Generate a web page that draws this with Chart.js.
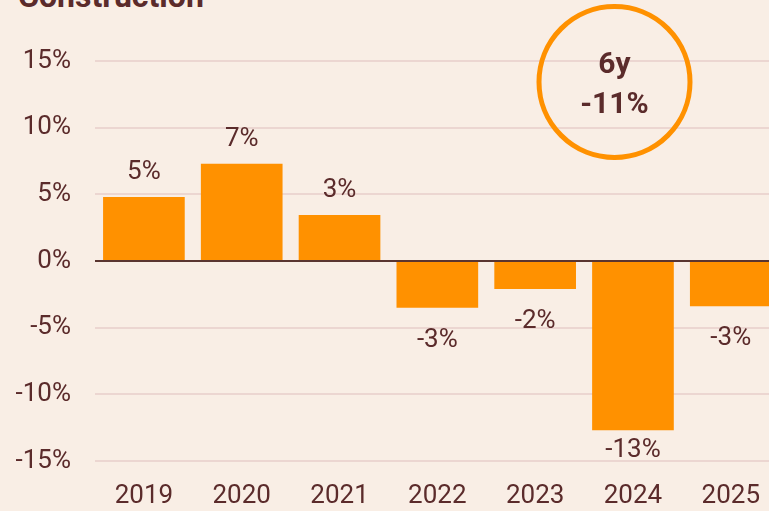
<!DOCTYPE html>
<html>
<head>
<meta charset="utf-8">
<script src="https://cdn.jsdelivr.net/npm/chart.js@4"></script>
<style>
  html, body { margin: 0; padding: 0; background: #f9eee5; }
  #wrap { position: relative; width: 769px; height: 511px; overflow: hidden; }
  #title { position: absolute; left: 18px; top: -23px; line-height: 32px; font: bold 32px Roboto, sans-serif; color: #5b2b2b; white-space: nowrap; }
  canvas { position: absolute; left: 0; top: 0; }
</style>
</head>
<body>
<div id="wrap">
  <div id="title">Construction</div>
  <canvas id="myChart" width="780" height="511"></canvas>
</div>
<script>
// chart data
var years = ["2019", "2020", "2021", "2022", "2023", "2024", "2025"];
var growth = [4.8, 7.3, 3.45, -3.5, -2.1, -12.7, -3.4];
var growthLabels = ["5%", "7%", "3%", "-3%", "-2%", "-13%", "-3%"];
var yTicks = [-15, -10, -5, 0, 5, 10, 15];
var badgeLines = ["6y", "-11%"];

var orange = "#ff9100";
var textColor = "#5b2b2b";

// labels above / below each bar (kept inside the plot area)
var valueLabels = {
  id: "valueLabels",
  afterDatasetsDraw: function (chart) {
    var ctx = chart.ctx;
    var meta = chart.getDatasetMeta(0);
    ctx.save();
    ctx.font = "26px Roboto";
    ctx.fillStyle = textColor;
    ctx.textAlign = "center";
    ctx.textBaseline = "alphabetic";
    meta.data.forEach(function (bar, i) {
      var y = growth[i] >= 0 ? bar.y - 18 : Math.min(bar.y + 39, chart.chartArea.bottom - 4);
      ctx.fillText(growthLabels[i], bar.x, y);
    });
    ctx.restore();
  }
};

// the circled summary
var badge = {
  id: "badge",
  afterDraw: function (chart) {
    var ctx = chart.ctx;
    var cx = 614.5, cy = 82;
    ctx.save();
    ctx.beginPath();
    ctx.arc(cx, cy, 75.5, 0, Math.PI * 2);
    ctx.lineWidth = 5;
    ctx.strokeStyle = orange;
    ctx.stroke();
    ctx.font = "bold 30px Roboto";
    ctx.fillStyle = textColor;
    ctx.textAlign = "center";
    ctx.textBaseline = "alphabetic";
    ctx.fillText(badgeLines[0], cx, 73);
    ctx.fillText(badgeLines[1], cx, 113);
    ctx.restore();
  }
};

var ctx = document.getElementById("myChart").getContext("2d");

var myBarChart = new Chart(ctx, {
  type: "bar",
  data: {
    labels: years,
    datasets: [{
      data: growth,
      backgroundColor: orange,
      borderWidth: 0,
      barPercentage: 0.835,
      categoryPercentage: 1
    }]
  },
  options: {
    responsive: false,
    animation: false,
    layout: { padding: { top: 61, bottom: 0, left: 0, right: 0 } },
    plugins: {
      legend: { display: false },
      tooltip: { enabled: false }
    },
    scales: {
      x: {
        afterFit: function (scale) { scale.height = 50; },
        grid: { display: false, drawTicks: false },
        border: { display: false },
        ticks: {
          color: textColor,
          font: { family: "Roboto", size: 26 },
          padding: 20
        }
      },
      y: {
        min: -15,
        max: 15,
        afterFit: function (scale) { scale.width = 95; },
        afterBuildTicks: function (scale) {
          scale.ticks = yTicks.map(function (v) { return { value: v }; });
        },
        grid: {
          drawTicks: false,
          lineWidth: 2,
          color: function (c) { return c.tick && c.tick.value === 0 ? "#5a3530" : "#ecd6d1"; }
        },
        border: { display: false },
        ticks: {
          color: textColor,
          font: { family: "Roboto", size: 26 },
          padding: 24,
          callback: function (v) { return v + "%"; }
        }
      }
    }
  },
  plugins: [valueLabels, badge]
});
</script>
</body>
</html>
